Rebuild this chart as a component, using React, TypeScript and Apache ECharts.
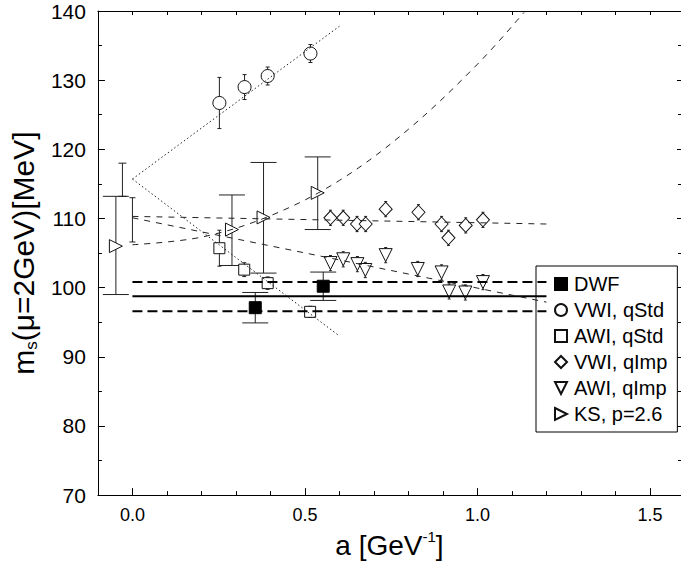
import React, { useEffect, useRef } from "react";
import * as echarts from "echarts";

// ---------- data ----------
const dwfX = [0.356, 0.553];
const dwfY = [97.1, 100.2];
const dwfErr = [2.2, 2.05];
const dwfCentral = 98.75;
const dwfUpper = 100.8;
const dwfLower = 96.6;
const dwfLineRange = [0, 1.2];

const vwiStdX = [0.252, 0.325, 0.392, 0.516];
const vwiStdY = [126.7, 129.0, 130.6, 133.85];
const vwiStdErr = [3.7, 1.8, 1.3, 1.3];

const awiStdX = [0.252, 0.324, 0.392, 0.515];
const awiStdY = [105.7, 102.6, 100.65, 96.5];
const awiStdErr = [2.6, 1.0, 0.9, 0.8];

const vwiImpX = [0.574, 0.611, 0.651, 0.676, 0.734, 0.829, 0.896, 0.916, 0.966, 1.016];
const vwiImpY = [110.1, 110.1, 109.2, 109.2, 111.35, 110.9, 109.2, 107.2, 109.0, 109.8];
const vwiImpErr = [1.1, 1.1, 1.1, 1.1, 1.1, 1.1, 1.1, 1.1, 1.1, 1.1];

const awiImpX = [0.574, 0.611, 0.652, 0.675, 0.734, 0.827, 0.896, 0.918, 0.965, 1.016];
const awiImpY = [103.55, 104.1, 103.4, 102.55, 104.7, 102.7, 102.2, 99.45, 99.3, 100.8];
const awiImpErr = [1.1, 1.1, 1.1, 1.1, 1.1, 1.1, 1.1, 1.1, 1.1, 1.1];

const ksX = [-0.048, 0.2885, 0.38, 0.537];
const ksY = [106.0, 108.4, 110.15, 113.7];
const ksLow = [99.0, 103.2, 102.1, 108.4];
const ksHigh = [113.2, 113.4, 118.1, 118.9];

// continuum-limit error bars drawn without a marker
const qStdLimitX = [-0.029];
const qStdLimitLow = [113.2];
const qStdLimitHigh = [118.0];
const qImpLimitX = [0.0];
const qImpLimitLow = [106.6];
const qImpLimitHigh = [113.0];

// fit lines
const vwiStdFit = [[0, 115.7], [0.6, 137.8]];
const awiStdFit = [[0, 115.7], [0.6, 93.0]];
const vwiImpFit = [[0, 110.3], [1.2, 109.2]];
const awiImpFit = [[0, 110.1], [1.2, 97.9]];
const ksFit = [[0, 106.2], [0.2, 107.3], [0.4, 110.4], [0.6, 115.5], [0.8, 122.9], [1.0, 132.3], [1.135, 139.8]];

const xMajorTicks = [0, 0.5, 1.0, 1.5];

// ---------- styling ----------
const FONT = "Liberation Sans";
const INK = "#111";
const DOWN_TRI = "path://M0,0 L10,0 L5,10 Z";
const RIGHT_TRI = "path://M0,0 L10,5 L0,10 Z";

function errorBars(xs: number[], lo: number[], hi: number[], capHalf: number) {
  return {
    type: "custom",
    silent: true,
    z: 1,
    xAxisIndex: 0,
    yAxisIndex: 0,
    data: xs.map((x, i) => [x, lo[i], hi[i]]),
    encode: { x: 0, y: [1, 2] },
    renderItem: (_p: any, api: any) => {
      const x = api.value(0);
      const top = api.coord([x, api.value(2)]);
      const bot = api.coord([x, api.value(1)]);
      const style = { stroke: "#222", lineWidth: 1 };
      return {
        type: "group",
        children: [
          { type: "line", shape: { x1: top[0], y1: top[1], x2: bot[0], y2: bot[1] }, style },
          { type: "line", shape: { x1: top[0] - capHalf, y1: top[1], x2: top[0] + capHalf, y2: top[1] }, style },
          { type: "line", shape: { x1: bot[0] - capHalf, y1: bot[1], x2: bot[0] + capHalf, y2: bot[1] }, style },
        ],
      };
    },
  };
}

function symErr(xs: number[], ys: number[], err: number[], capHalf: number) {
  return errorBars(
    xs,
    ys.map((y, i) => y - err[i]),
    ys.map((y, i) => y + err[i]),
    capHalf
  );
}

function scatter(name: string, xs: number[], ys: number[], symbol: string, size: any, filled: boolean) {
  return {
    name,
    type: "scatter",
    z: 3,
    symbol,
    symbolSize: size,
    data: xs.map((x, i) => [x, ys[i]]),
    itemStyle: filled
      ? { color: "#000", borderColor: "#000", borderWidth: 1, opacity: 1 }
      : { color: "#fff", borderColor: INK, borderWidth: 1, opacity: 1 },
  };
}

function fitLine(data: number[][], type: any, width: number, smooth = false, color = "#222") {
  return {
    type: "line",
    data,
    z: 5,
    silent: true,
    showSymbol: false,
    symbol: "none",
    smooth: smooth ? 0.35 : false,
    lineStyle: { color, width, type },
  };
}

export default function App() {
  const ref = useRef<HTMLDivElement>(null);
  useEffect(() => {
    if (!ref.current) return;
    const chart = echarts.init(ref.current, undefined, { renderer: "svg" });
    const axisCommon = {
      type: "value",
      min: -0.1,
      max: 1.59,
      splitLine: { show: false },
    };
    const option: any = {
      animation: false,
      backgroundColor: "#fff",
      grid: { left: 97, right: -2, top: 11, bottom: 61 },
      xAxis: [
        {
          ...axisCommon,
          position: "bottom",
          axisLine: { show: true, onZero: false, lineStyle: { color: "#000", width: 1 } },
          axisTick: { show: true, inside: true, length: 7, customValues: xMajorTicks, lineStyle: { color: "#000" } },
          axisLabel: {
            customValues: xMajorTicks,
            formatter: (v: number) => v.toFixed(1),
            fontFamily: FONT,
            fontSize: 18,
            color: "#000",
            margin: 11,
          },
          name: "{a|a [GeV}{sup|-1}{a|]}",
          nameLocation: "middle",
          nameGap: 29,
          nameTextStyle: {
            fontFamily: FONT,
            color: "#000",
            rich: {
              a: { fontFamily: FONT, fontSize: 28, color: "#000", lineHeight: 32 },
              sup: { fontFamily: FONT, fontSize: 15, color: "#000", lineHeight: 16, verticalAlign: "top" },
            },
          },
        },
        {
          ...axisCommon,
          position: "bottom",
          interval: 0.1,
          axisLine: { show: false, onZero: false },
          axisTick: { show: true, inside: true, length: 4, lineStyle: { color: "#000" } },
          axisLabel: { show: false },
        },
        {
          ...axisCommon,
          position: "top",
          interval: 0.1,
          axisLine: { show: true, onZero: false, lineStyle: { color: "#000", width: 1 } },
          axisTick: { show: true, inside: true, length: 4, lineStyle: { color: "#000" } },
          axisLabel: { show: false },
        },
      ],
      yAxis: [
        {
          type: "value",
          min: 70,
          max: 140,
          interval: 10,
          position: "left",
          splitLine: { show: false },
          axisLine: { show: true, onZero: false, lineStyle: { color: "#000", width: 1 } },
          axisTick: { show: true, inside: true, length: 7, lineStyle: { color: "#000" } },
          minorTick: { show: true, splitNumber: 2, length: 4, lineStyle: { color: "#000" } },
          axisLabel: { fontFamily: FONT, fontSize: 21, color: "#000", margin: 12 },
          name: "{m|m}{s|s}{m|(μ=2GeV)[MeV]}",
          nameLocation: "middle",
          nameRotate: 90,
          nameGap: 42,
          nameTextStyle: {
            fontFamily: FONT,
            color: "#000",
            rich: {
              m: { fontFamily: FONT, fontSize: 30, color: "#000", lineHeight: 34 },
              s: { fontFamily: FONT, fontSize: 17, color: "#000", lineHeight: 10, verticalAlign: "bottom" },
            },
          },
        },
        {
          type: "value",
          min: 70,
          max: 140,
          interval: 10,
          position: "right",
          splitLine: { show: false },
          axisLine: { show: true, onZero: false, lineStyle: { color: "#000", width: 1 } },
          axisTick: { show: true, inside: true, length: 4, lineStyle: { color: "#000" } },
          minorTick: { show: true, splitNumber: 2, length: 3, lineStyle: { color: "#000" } },
          axisLabel: { show: false },
        },
      ],
      legend: {
        orient: "vertical",
        left: 536,
        top: 266,
        padding: [8, 10, 8, 18],
        itemGap: 6,
        itemWidth: 12,
        itemHeight: 12,
        backgroundColor: "#fff",
        borderColor: "#000",
        borderWidth: 1,
        borderRadius: 0,
        textStyle: { fontFamily: FONT, fontSize: 20, color: "#000", lineHeight: 20, padding: [0, 0, 0, 2] },
        data: [
          { name: "DWF", icon: "rect" },
          { name: "VWI, qStd", icon: "circle" },
          { name: "AWI, qStd", icon: "rect" },
          { name: "VWI, qImp", icon: "diamond" },
          { name: "AWI, qImp", icon: DOWN_TRI },
          { name: "KS, p=2.6", icon: RIGHT_TRI },
        ],
      },
      series: [
        // DWF band
        fitLine([[dwfLineRange[0], dwfCentral], [dwfLineRange[1], dwfCentral]], "solid", 2, false, "#000"),
        fitLine([[dwfLineRange[0], dwfUpper], [dwfLineRange[1], dwfUpper]], [10, 5], 2, false, "#000"),
        fitLine([[dwfLineRange[0], dwfLower], [dwfLineRange[1], dwfLower]], [10, 5], 2, false, "#000"),
        // fits
        fitLine(vwiStdFit, [1.5, 2.5], 1),
        fitLine(awiStdFit, [1.5, 2.5], 1),
        fitLine(vwiImpFit, [6, 6], 1),
        fitLine(awiImpFit, [6, 6], 1),
        fitLine(ksFit, [6, 6], 1, true),
        // error bars
        symErr(dwfX, dwfY, dwfErr, 13),
        symErr(vwiStdX, vwiStdY, vwiStdErr, 2),
        symErr(awiStdX, awiStdY, awiStdErr, 2),
        symErr(vwiImpX, vwiImpY, vwiImpErr, 1.5),
        symErr(awiImpX, awiImpY, awiImpErr, 1.5),
        errorBars(ksX, ksLow, ksHigh, 13),
        errorBars(qStdLimitX, qStdLimitLow, qStdLimitHigh, 4),
        errorBars(qImpLimitX, qImpLimitLow, qImpLimitHigh, 3),
        // markers
        scatter("DWF", dwfX, dwfY, "rect", 12, true),
        scatter("VWI, qStd", vwiStdX, vwiStdY, "circle", 13, false),
        scatter("AWI, qStd", awiStdX, awiStdY, "rect", 11, false),
        scatter("VWI, qImp", vwiImpX, vwiImpY, "diamond", [13, 14], false),
        scatter("AWI, qImp", awiImpX, awiImpY, DOWN_TRI, 13, false),
        scatter("KS, p=2.6", ksX, ksY, RIGHT_TRI, 13, false),
      ],
    };
    chart.setOption(option);
    return () => chart.dispose();
  }, []);
  return (
    <div
      ref={ref}
      style={{ position: "fixed", left: 0, top: 0, width: 681, height: 564, background: "#fff" }}
    />
  );
}
